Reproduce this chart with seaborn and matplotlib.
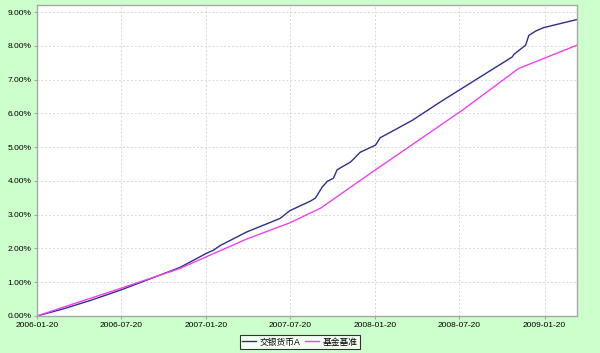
import matplotlib
matplotlib.use("Agg")
import matplotlib.pyplot as plt
import matplotlib.dates as mdates
import matplotlib.ticker as mticker
from matplotlib.lines import Line2D
import pandas as pd
import seaborn as sns

# ---- data ----
fund_dates = ["2006-01-20", "2006-03-20", "2006-05-15", "2006-07-20", "2006-11-25",
              "2007-01-20", "2007-02-05", "2007-02-20", "2007-04-18", "2007-06-29",
              "2007-07-20", "2007-09-02", "2007-09-13", "2007-09-28", "2007-10-09",
              "2007-10-22", "2007-10-30", "2007-11-28", "2007-12-19", "2008-01-21",
              "2008-01-31", "2008-02-22", "2008-04-10", "2008-06-09", "2008-07-22",
              "2008-11-11", "2008-11-15", "2008-12-10", "2008-12-17", "2009-01-01",
              "2009-01-18", "2009-03-31"]
fund_values = [0.00, 0.22, 0.46, 0.77, 1.44,
               1.85, 1.95, 2.09, 2.49, 2.89,
               3.12, 3.40, 3.49, 3.82, 3.99,
               4.08, 4.33, 4.56, 4.85, 5.06,
               5.28, 5.44, 5.80, 6.34, 6.71,
               7.67, 7.75, 8.02, 8.31, 8.44,
               8.54, 8.78]

bench_dates = ["2006-01-20", "2006-03-20", "2006-07-20", "2006-11-25", "2007-01-20",
               "2007-04-18", "2007-07-20", "2007-09-24", "2008-01-20", "2008-07-26",
               "2008-11-25", "2009-03-31"]
bench_values = [0.00, 0.27, 0.82, 1.41, 1.75,
                2.28, 2.76, 3.19, 4.32, 6.09,
                7.33, 8.02]

series_names = ["交银货币A", "基金基准"]
series_colors = ["#2E2E8A", "#F040F0"]
x_tick_labels = ["2006-01-20", "2006-07-20", "2007-01-20", "2007-07-20",
                 "2008-01-20", "2008-07-20", "2009-01-20"]
y_ticks = [0, 1, 2, 3, 4, 5, 6, 7, 8, 9]
x_start, x_end = "2006-01-20", "2009-03-31"

df = pd.concat([
    pd.DataFrame({"date": pd.to_datetime(fund_dates), "value": fund_values, "series": series_names[0]}),
    pd.DataFrame({"date": pd.to_datetime(bench_dates), "value": bench_values, "series": series_names[1]}),
], ignore_index=True)

plt.rcParams['font.family'] = ['Liberation Sans', 'Noto Sans CJK SC']

fig = plt.figure(figsize=(6.0, 3.53), dpi=100, facecolor="#CCFFCC")
ax = fig.add_axes([37/600, 1-316/353, 540/600, 311/353])
ax.set_facecolor("white")

sns.lineplot(data=df, x="date", y="value", hue="series", hue_order=series_names,
             palette=series_colors, linewidth=1.0, ax=ax, legend=False, estimator=None)

ax.set_xlim(pd.Timestamp(x_start), pd.Timestamp(x_end))
ax.set_ylim(0, 9.21)
ax.set_xticks(pd.to_datetime(x_tick_labels))
ax.xaxis.set_major_formatter(mdates.DateFormatter("%Y-%m-%d"))
ax.set_yticks(y_ticks)
ax.yaxis.set_major_formatter(mticker.FuncFormatter(lambda v, p: f"{v:.2f}%"))
ax.set_xlabel("")
ax.set_ylabel("")

ax.grid(True, color="#D8D8D8", linestyle=(0, (2, 2)), linewidth=0.7)
ax.set_axisbelow(True)
for s in ax.spines.values():
    s.set_color("#A8A8A8")
    s.set_linewidth(1.0)
ax.tick_params(axis="both", labelsize=6.0, colors="#A8A8A8", labelcolor="#000000",
               length=2, width=0.8, pad=2)

handles = [Line2D([0], [0], color=c, lw=1.0) for c in series_colors]
leg = fig.legend(handles, series_names, loc="center", bbox_to_anchor=(0.5, 1-342/353),
                 ncol=2, frameon=True, fancybox=False, fontsize=6.3,
                 handlelength=1.6, handletextpad=0.4, columnspacing=0.5,
                 borderpad=0.3, borderaxespad=0)
leg.get_frame().set_edgecolor("black")
leg.get_frame().set_linewidth(0.8)
leg.get_frame().set_facecolor("white")

fig.savefig("out.png", dpi=100, facecolor=fig.get_facecolor())
